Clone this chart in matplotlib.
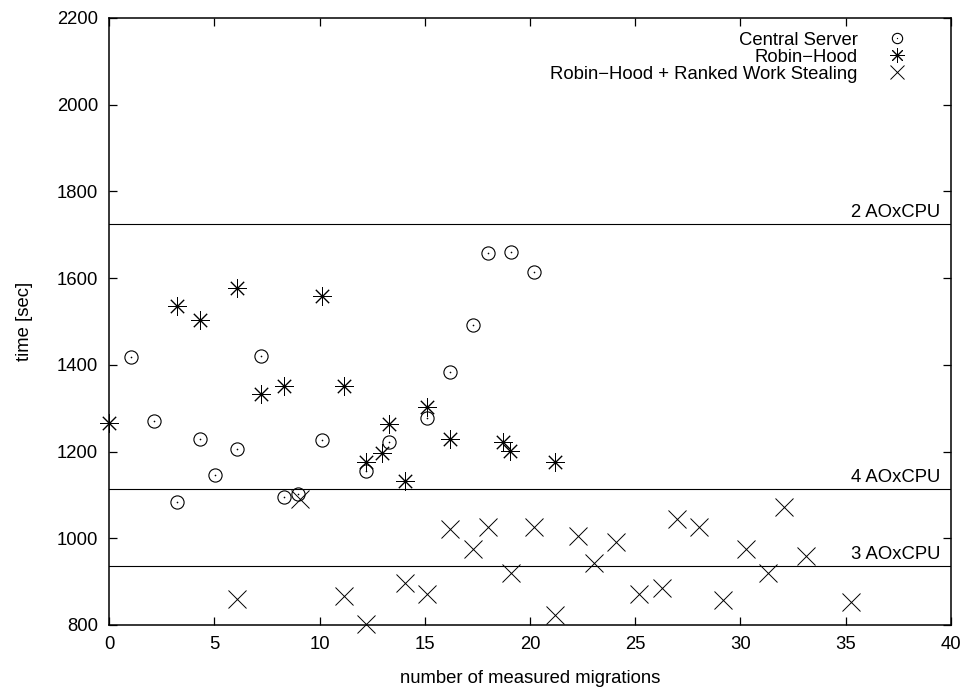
import matplotlib
matplotlib.use('Agg')
import matplotlib.pyplot as plt
from matplotlib.legend_handler import HandlerTuple

plt.rcParams['font.family'] = ['Liberation Sans', 'DejaVu Sans']
plt.rcParams['font.size'] = 13.3

# central server
cs_x = [1.05, 2.15, 3.25, 4.3, 5.05, 6.1, 7.2, 8.3, 9.0, 10.1, 12.2, 13.3, 15.1, 16.2, 17.3, 18.0, 19.1, 20.2]
cs_y = [1417, 1270, 1083, 1229, 1147, 1206, 1420, 1095, 1103, 1227, 1156, 1222, 1277, 1383, 1491, 1658, 1661, 1615]

# robin-hood
rh_x = [0, 3.25, 4.3, 6.1, 7.2, 8.3, 10.1, 11.15, 12.2, 12.95, 13.3, 14.05, 15.1, 16.2, 18.7, 19.05, 21.2]
rh_y = [1267, 1536, 1503, 1578, 1333, 1351, 1558, 1352, 1175, 1196, 1263, 1131, 1303, 1228, 1222, 1201, 1175]

# robin-hood + ranked work stealing
rws_x = [6.1, 9.05, 11.15, 12.2, 14.05, 15.1, 16.2, 17.3, 18.0, 19.1, 20.2, 21.2, 22.3, 23.05, 24.1,
         25.2, 26.25, 27.0, 28.05, 29.15, 30.25, 31.3, 32.05, 33.1, 35.25]
rws_y = [860, 1090, 868, 802, 896, 871, 1021, 975, 1026, 921, 1025, 823, 1006, 944, 992,
         871, 886, 1044, 1025, 858, 975, 919, 1071, 959, 854]

# reference levels
ref_labels = ['2 AOxCPU', '4 AOxCPU', '3 AOxCPU']
ref_values = [1725, 1114, 937]

fig = plt.figure(figsize=(9.7, 6.89), dpi=100)
ax = fig.add_axes([0.1124, 0.0929, 0.868, 0.8810])

for lab, v in zip(ref_labels, ref_values):
    ax.axhline(v, color='black', lw=0.8)
    ax.text(39.5, v + 6, lab, ha='right', va='bottom')

c1, = ax.plot(cs_x, cs_y, 'o', ms=9.5, mfc='none', mec='black', mew=0.8, clip_on=False)
c2, = ax.plot(cs_x, cs_y, 'o', ms=1.2, mfc='black', mec='none', clip_on=False)
h_rh, = ax.plot(rh_x, rh_y, ls='none', marker=(8, 2, 0), ms=13.5, mec='black', mew=0.7, clip_on=False)
h_rws, = ax.plot(rws_x, rws_y, 'x', ms=13, mec='black', mew=0.7, clip_on=False)

ax.set_xlim(0, 40)
ax.set_ylim(800, 2200)
ax.set_xticks(range(0, 41, 5))
ax.set_yticks(range(800, 2201, 200))
ax.tick_params(direction='in', top=True, right=True, length=6, width=0.9, pad=8)
for s in ax.spines.values():
    s.set_linewidth(1.1)

ax.set_xlabel('number of measured migrations', labelpad=12)
ax.set_ylabel('time [sec]', labelpad=17)

ax.legend([(c1, c2), h_rh, h_rws],
          ['Central Server', 'Robin\u2212Hood', 'Robin\u2212Hood + Ranked Work Stealing'],
          handler_map={tuple: HandlerTuple(ndivide=1)},
          loc='upper right', bbox_to_anchor=(0.9525, 0.977), markerfirst=False, frameon=False,
          labelspacing=0.0, handlelength=1.5, handletextpad=1.4, markerscale=0.78,
          borderaxespad=0.0, borderpad=0.0)

fig.savefig('out.png', dpi=100)
